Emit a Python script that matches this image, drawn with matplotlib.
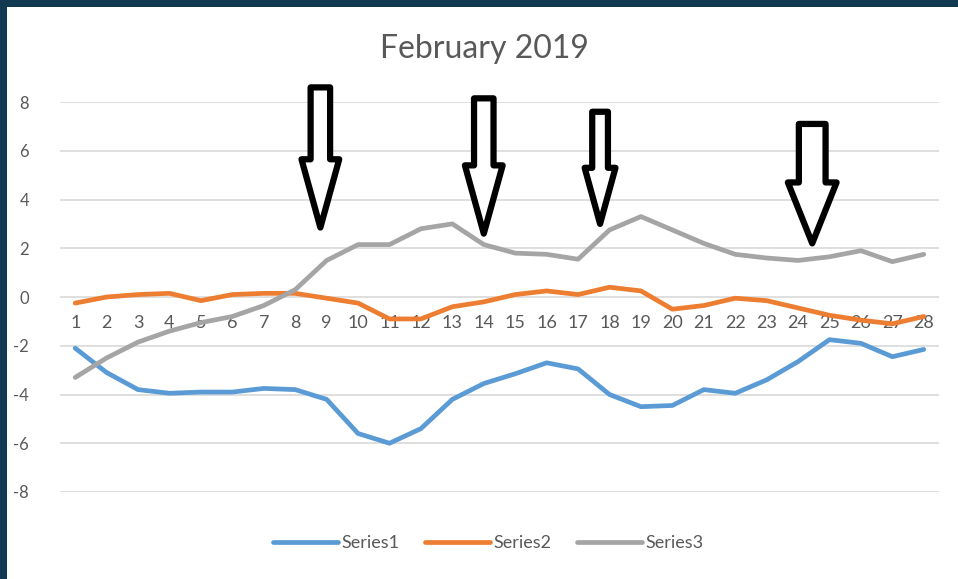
import numpy as np
import matplotlib
matplotlib.use("Agg")
import matplotlib.pyplot as plt
from matplotlib.patches import FancyArrow, Rectangle

plt.rcParams['font.family'] = ['Lato', 'DejaVu Sans']
plt.rcParams['axes.unicode_minus'] = False

days = list(range(1, 29))
series1 = [-2.1, -3.1, -3.8, -3.95, -3.9, -3.9, -3.75, -3.8, -4.2, -5.6,
           -6.0, -5.4, -4.2, -3.55, -3.15, -2.7, -2.95, -4.0, -4.5, -4.45,
           -3.8, -3.95, -3.4, -2.65, -1.75, -1.9, -2.45, -2.15]
series2 = [-0.25, 0.0, 0.1, 0.15, -0.15, 0.1, 0.15, 0.15, -0.05, -0.25,
           -0.9, -0.9, -0.4, -0.2, 0.1, 0.25, 0.1, 0.4, 0.25, -0.5,
           -0.35, -0.05, -0.15, -0.45, -0.75, -0.95, -1.1, -0.8]
series3 = [-3.3, -2.5, -1.85, -1.4, -1.05, -0.8, -0.35, 0.3, 1.5, 2.15,
           2.15, 2.8, 3.0, 2.15, 1.8, 1.75, 1.55, 2.75, 3.3, 2.75,
           2.2, 1.75, 1.6, 1.5, 1.65, 1.9, 1.45, 1.75]

# hand-drawn arrow annotations: x position, top, tip
arrow_x = [8.8, 14.0, 17.7, 24.45]
arrow_top = [8.6, 8.15, 7.6, 7.1]
arrow_tip = [2.85, 2.6, 3.0, 2.2]
arrow_shaft = [0.62, 0.62, 0.5, 0.85]
arrow_head = [1.2, 1.2, 0.98, 1.55]
arrow_hlen = [2.8, 2.8, 2.3, 2.5]

colors = ['#5b9bd5', '#ed7d31', '#a5a5a5']
text_col = '#595959'

fig = plt.figure(figsize=(9.58, 5.79), dpi=100)
fig.patch.set_facecolor('white')
# dark frame on the left and top
fig.patches.append(Rectangle((0, 0), 7 / 958, 1, transform=fig.transFigure,
                             facecolor='#113a52', edgecolor='none', zorder=0))
fig.patches.append(Rectangle((0, 1 - 7 / 579), 1, 7 / 579, transform=fig.transFigure,
                             facecolor='#113a52', edgecolor='none', zorder=0))

ax = fig.add_axes([59.5 / 958, 1 - 492 / 579, 880 / 958, 390 / 579])
ax.set_xlim(0.5, 28.5)
ax.set_ylim(-8, 8)

for vals, c, name in zip([series1, series2, series3], colors,
                         ['Series1', 'Series2', 'Series3']):
    ax.plot(days, vals, color=c, lw=3.4, label=name, solid_capstyle='round',
            solid_joinstyle='round', zorder=3)

ax.set_yticks(np.arange(-8, 9, 2))
ax.yaxis.grid(True, color='#d9d9d9', lw=1.2)
ax.set_axisbelow(True)
ax.tick_params(axis='y', length=0, pad=22, labelsize=12, labelcolor=text_col)

ax.set_xticks(days)
ax.set_xticklabels([str(d) for d in days])
ax.spines['bottom'].set_position(('data', 0))
ax.tick_params(axis='x', length=0, pad=13, labelsize=13, labelcolor=text_col)
for s in ['top', 'right', 'left', 'bottom']:
    ax.spines[s].set_visible(False)

for x, top, tip, w, hw, hl in zip(arrow_x, arrow_top, arrow_tip,
                                  arrow_shaft, arrow_head, arrow_hlen):
    ax.add_patch(FancyArrow(x, top, 0, tip - top, width=w, head_width=hw,
                            head_length=hl, length_includes_head=True,
                            facecolor='white', edgecolor='black', lw=4.5,
                            joinstyle='round', zorder=5, clip_on=False))

fig.text(484 / 958, 1 - 49 / 579, 'February 2019', ha='center', va='center',
         fontsize=23, color=text_col)

leg = fig.legend(loc='center', bbox_to_anchor=(488 / 958, 1 - 543 / 579),
                 ncol=3, frameon=False, fontsize=13, handlelength=3.6,
                 handletextpad=0.2, columnspacing=1.4)
for t in leg.get_texts():
    t.set_color(text_col)

fig.savefig('out.png', dpi=100)
